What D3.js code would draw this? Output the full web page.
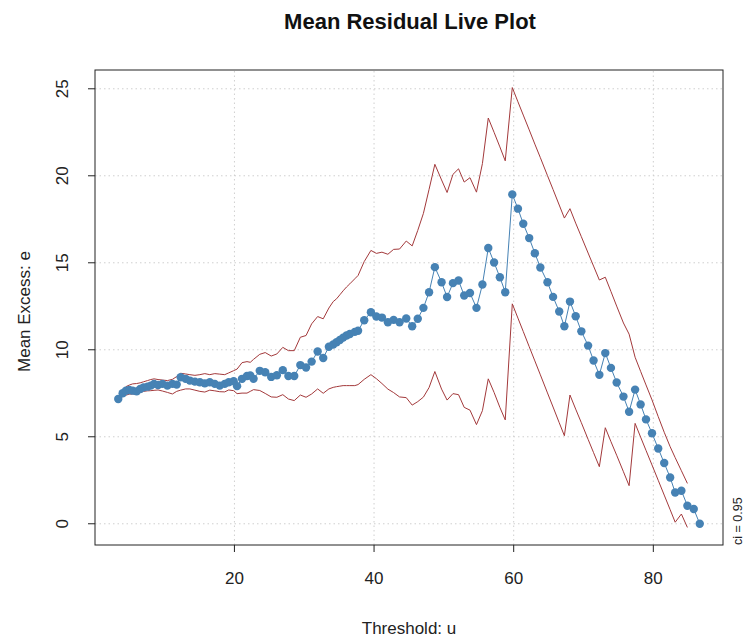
<!DOCTYPE html>
<html>
<head>
<meta charset="utf-8">
<script src="https://cdn.jsdelivr.net/npm/d3@7"></script>
<style>
  body { margin: 0; background: #fff; }
  svg { font-family: "Liberation Sans", Arial, sans-serif; }
</style>
</head>
<body>
<div id="chart"></div>
<script>
// thresholds u (x) and mean excess e (y)
var threshold = [3.36,3.99,4.46,4.93,5.42,5.99,6.50,6.98,7.55,8.02,8.49,9.06,9.69,10.40,11.12,11.73,12.30,13.01,13.62,14.34,
  15.05,15.76,16.47,17.19,17.90,18.61,19.18,19.89,20.38,21.09,21.80,22.27,22.74,23.63,24.41,25.27,26.08,26.93,27.73,28.57,
  29.44,30.26,31.06,31.92,32.72,33.53,34.15,34.63,35.10,35.57,36.06,36.53,37.24,37.71,38.59,39.55,40.33,41.13,41.98,42.80,
  43.65,44.61,45.46,46.26,47.07,47.88,48.71,49.67,50.46,51.30,52.10,52.91,53.74,54.67,55.52,56.36,57.19,58.02,58.79,59.80,
  60.61,61.37,62.22,63.03,63.82,64.84,65.64,66.52,67.26,68.06,68.88,69.69,70.66,71.44,72.27,73.12,73.93,74.75,75.72,76.53,
  77.39,78.18,78.95,79.81,80.70,81.56,82.41,83.13,84.02,84.88,85.79,86.65];

var meanExcess = [7.17,7.50,7.65,7.69,7.65,7.61,7.75,7.84,7.88,7.94,8.04,7.98,8.04,7.94,8.04,8.00,8.42,8.33,8.23,8.17,
  8.13,8.07,8.13,8.04,7.94,8.04,8.13,8.19,7.91,8.33,8.49,8.52,8.33,8.79,8.71,8.44,8.54,8.83,8.49,8.49,
  9.12,8.98,9.32,9.90,9.53,10.17,10.30,10.43,10.56,10.70,10.82,10.91,11.03,11.09,11.70,12.16,11.91,11.85,11.58,11.72,
  11.58,11.80,11.35,11.78,12.41,13.31,14.75,13.88,13.03,13.83,13.98,13.12,13.26,12.41,13.75,15.85,15.02,14.17,13.31,18.93,
  18.11,17.24,16.42,15.55,14.73,13.88,13.04,12.20,11.35,12.77,11.93,11.06,10.24,9.38,8.56,9.81,8.96,8.12,7.31,6.44,
  7.71,6.86,6.00,5.20,4.33,3.49,2.66,1.80,1.90,1.04,0.85,0];

// 95% confidence band (drawn for the first 110 thresholds only)
var ciUpper = [7.31,7.59,7.88,7.97,8.04,8.06,8.10,8.16,8.23,8.29,8.33,8.29,8.26,8.23,8.30,8.46,8.65,8.61,8.57,8.53,
  8.57,8.63,8.57,8.63,8.60,8.57,8.67,8.80,8.89,9.26,9.32,9.28,9.45,9.74,9.84,9.64,9.76,10.14,9.95,9.95,
  10.72,10.82,11.49,11.91,11.78,12.40,12.77,12.93,13.16,13.39,13.61,13.79,14.08,14.27,15.07,15.71,15.54,15.61,15.49,15.77,
  15.79,16.25,15.97,16.86,17.84,19.22,20.66,19.76,19.04,20.08,20.40,19.64,19.89,19.06,20.70,23.32,22.50,21.66,20.86,25.07,
  24.25,23.49,22.64,21.82,21.04,20.01,19.21,18.32,17.57,18.11,17.28,16.50,15.56,14.81,14.01,14.17,13.35,12.51,11.54,10.90,
  9.57,8.76,7.98,7.12,6.16,5.26,4.43,3.80,3.05,2.32];

var ciLower = [7.08,7.31,7.39,7.45,7.46,7.46,7.54,7.61,7.64,7.65,7.67,7.69,7.63,7.55,7.46,7.61,7.68,7.75,7.75,7.68,
  7.61,7.57,7.68,7.64,7.59,7.58,7.69,7.65,7.48,7.51,7.51,7.61,7.71,7.66,7.49,7.29,7.27,7.42,7.17,7.08,
  7.40,7.27,7.46,7.75,7.50,7.75,7.84,7.88,7.91,7.94,7.94,7.94,7.94,8.00,8.30,8.57,8.34,8.06,7.74,7.54,
  7.29,7.25,6.82,7.02,7.28,7.83,8.75,7.74,7.11,7.48,7.42,6.69,6.53,5.70,6.50,8.33,7.55,6.69,5.97,12.64,
  11.82,11.05,10.18,9.36,8.56,7.52,6.71,5.81,5.06,7.40,6.59,5.81,4.85,4.09,3.28,5.52,4.72,3.94,2.99,2.19,
  5.77,4.98,4.22,3.38,2.50,1.65,0.81,0.09,0.56,-0.21];

var xTicks = [20, 40, 60, 80];
var yTicks = [0, 5, 10, 15, 20, 25];

var width = 745, height = 637;
var margin = {top: 70, right: 22, bottom: 92, left: 95};

var svg = d3.select("#chart").append("svg")
    .attr("width", width)
    .attr("height", height);

var x = d3.scaleLinear()
    .domain([0.03, 89.98])
    .range([margin.left, width - margin.right]);

var y = d3.scaleLinear()
    .domain([-1.22, 26.08])
    .range([height - margin.bottom, margin.top]);

////////// grid //////////
var grid = svg.append("g").attr("class", "grid")
    .attr("stroke", "#cfcfcf")
    .attr("stroke-dasharray", "1.5,3");

grid.selectAll("line.gx")
    .data(xTicks)
  .enter().append("line")
    .attr("class", "gx")
    .attr("x1", x).attr("x2", x)
    .attr("y1", y.range()[0]).attr("y2", y.range()[1]);

grid.selectAll("line.gy")
    .data(yTicks)
  .enter().append("line")
    .attr("class", "gy")
    .attr("y1", y).attr("y2", y)
    .attr("x1", x.range()[0]).attr("x2", x.range()[1]);

////////// ci lines //////////
var ciIdx = d3.range(ciUpper.length);

var bandLine = function(arr) {
  return d3.line()
      .x(function(i) { return x(threshold[i]); })
      .y(function(i) { return y(arr[i]); });
};

svg.append("path")
    .attr("d", bandLine(ciUpper)(ciIdx))
    .attr("fill", "none")
    .attr("stroke", "#a3393b")
    .attr("stroke-width", 1);

svg.append("path")
    .attr("d", bandLine(ciLower)(ciIdx))
    .attr("fill", "none")
    .attr("stroke", "#a3393b")
    .attr("stroke-width", 1);

////////// mean excess //////////
var idx = d3.range(threshold.length);

svg.append("path")
    .attr("d", d3.line()
      .x(function(i) { return x(threshold[i]); })
      .y(function(i) { return y(meanExcess[i]); })(idx))
    .attr("fill", "none")
    .attr("stroke", "#4682b4")
    .attr("stroke-width", 1);

svg.append("g").selectAll("circle")
    .data(idx)
  .enter().append("circle")
    .attr("cx", function(i) { return x(threshold[i]); })
    .attr("cy", function(i) { return y(meanExcess[i]); })
    .attr("r", 4.2)
    .attr("fill", "#4682b4");

////////// box + axes //////////
svg.append("rect")
    .attr("x", x.range()[0])
    .attr("y", y.range()[1])
    .attr("width", x.range()[1] - x.range()[0])
    .attr("height", y.range()[0] - y.range()[1])
    .attr("fill", "none")
    .attr("stroke", "#222")
    .attr("stroke-width", 1);

var xAxis = svg.append("g")
    .attr("transform", "translate(0," + y.range()[0] + ")");

xAxis.selectAll("line")
    .data(xTicks)
  .enter().append("line")
    .attr("x1", x).attr("x2", x)
    .attr("y1", 0).attr("y2", 7)
    .attr("stroke", "#222");

xAxis.selectAll("text")
    .data(xTicks)
  .enter().append("text")
    .attr("x", x)
    .attr("y", 39)
    .attr("text-anchor", "middle")
    .attr("font-size", 17)
    .attr("fill", "#222")
    .text(function(d) { return d; });

var yAxis = svg.append("g")
    .attr("transform", "translate(" + x.range()[0] + ",0)");

yAxis.selectAll("line")
    .data(yTicks)
  .enter().append("line")
    .attr("y1", y).attr("y2", y)
    .attr("x1", 0).attr("x2", -7)
    .attr("stroke", "#222");

yAxis.selectAll("text")
    .data(yTicks)
  .enter().append("text")
    .attr("transform", function(d) { return "translate(-27," + y(d) + ") rotate(-90)"; })
    .attr("text-anchor", "middle")
    .attr("font-size", 17)
    .attr("fill", "#222")
    .text(function(d) { return d; });

////////// titles //////////
var midX = (x.range()[0] + x.range()[1]) / 2;

svg.append("text")
    .attr("x", midX + 1)
    .attr("y", 29)
    .attr("text-anchor", "middle")
    .attr("font-size", 22)
    .attr("font-weight", "bold")
    .attr("fill", "#111")
    .text("Mean Residual Live Plot");

svg.append("text")
    .attr("x", midX)
    .attr("y", 634)
    .attr("text-anchor", "middle")
    .attr("font-size", 17)
    .attr("fill", "#222")
    .text("Threshold: u");

svg.append("text")
    .attr("transform", "translate(30," + ((y.range()[0] + y.range()[1]) / 2 + 4) + ") rotate(-90)")
    .attr("text-anchor", "middle")
    .attr("font-size", 17)
    .attr("fill", "#222")
    .text("Mean Excess: e");

svg.append("text")
    .attr("transform", "translate(742," + y.range()[0] + ") rotate(-90)")
    .attr("text-anchor", "start")
    .attr("font-size", 12.5)
    .attr("fill", "#222")
    .text("ci = 0.95");
</script>
</body>
</html>
